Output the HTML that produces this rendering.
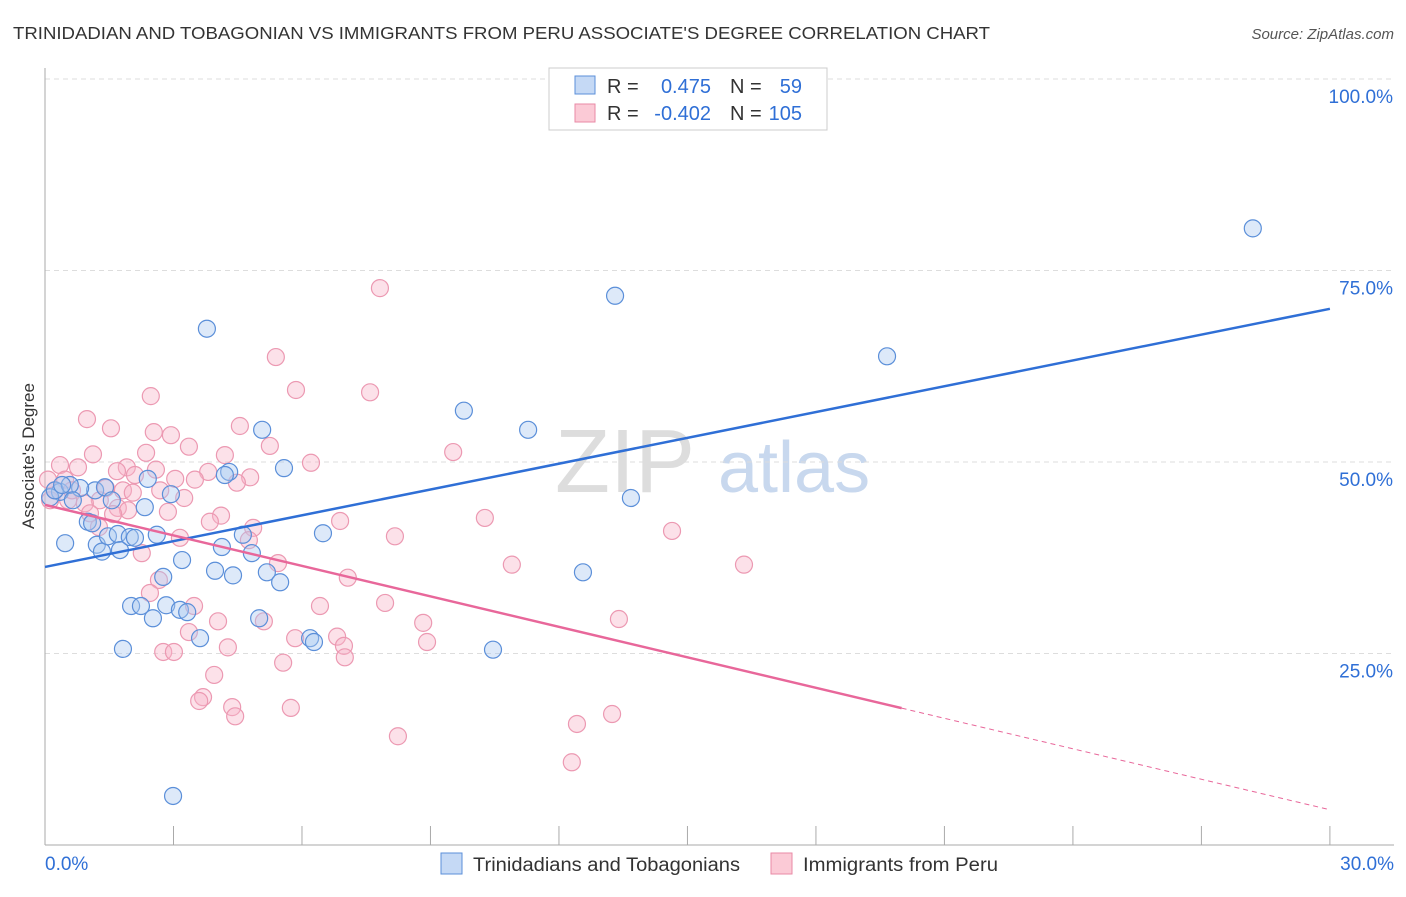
<!DOCTYPE html>
<html><head><meta charset="utf-8"><style>
body{margin:0;background:#fff;font-family:"Liberation Sans",sans-serif;}
svg text{font-family:"Liberation Sans",sans-serif;}
</style></head><body>
<svg id="c" width="1406" height="892" xmlns="http://www.w3.org/2000/svg">
<text x="13" y="39" font-size="17.5" fill="#333" textLength="977" lengthAdjust="spacingAndGlyphs">TRINIDADIAN AND TOBAGONIAN VS IMMIGRANTS FROM PERU ASSOCIATE'S DEGREE CORRELATION CHART</text>
<text x="1394" y="39" font-size="15" fill="#555" text-anchor="end" font-style="italic">Source: ZipAtlas.com</text>
<text x="34" y="456" font-size="17" fill="#333" text-anchor="middle" transform="rotate(-90 34 456)">Associate's Degree</text>
<text x="555" y="492" font-size="90" fill="#ddd" font-family="Liberation Serif">ZIP</text>
<text x="718" y="492" font-size="72" fill="#c8d8ee">atlas</text>
<g id="grid"></g><g id="pts"></g><g id="lines"></g>
<g>
<rect x="549" y="68" width="278" height="62" fill="#fff" stroke="#ccc"/>
<rect x="575" y="76" width="20" height="18" fill="#c5d9f5" stroke="#5b8fd9"/>
<rect x="575" y="104" width="20" height="18" fill="#fbcad6" stroke="#e88aa6"/>
<text x="607" y="93" font-size="20" fill="#333">R =</text>
<text x="711" y="93" font-size="20" fill="#2f6fd6" text-anchor="end">0.475</text>
<text x="730" y="93" font-size="20" fill="#333">N =</text>
<text x="802" y="93" font-size="20" fill="#2f6fd6" text-anchor="end">59</text>
<text x="607" y="120" font-size="20" fill="#333">R =</text>
<text x="711" y="120" font-size="20" fill="#2f6fd6" text-anchor="end">-0.402</text>
<text x="730" y="120" font-size="20" fill="#333">N =</text>
<text x="802" y="120" font-size="20" fill="#2f6fd6" text-anchor="end">105</text>
</g>
<g>
<rect x="441" y="853" width="21" height="21" fill="#c5d9f5" stroke="#5b8fd9"/>
<text x="473" y="871" font-size="19" fill="#333" textLength="267" lengthAdjust="spacingAndGlyphs">Trinidadians and Tobagonians</text>
<rect x="771" y="853" width="21" height="21" fill="#fbcad6" stroke="#e88aa6"/>
<text x="803" y="871" font-size="19" fill="#333" textLength="195" lengthAdjust="spacingAndGlyphs">Immigrants from Peru</text>
</g>
</svg>
<script>
const yTicks=[25,50,75,100];
const xTickLabels=["0.0%","30.0%"];
const bluePx=[[1253,228],[615,296],[207,329],[887,356],[464,411],[528,430],[262,430],[284,468],[229,472],[225,475],[148,479],[171,494],[145,507],[631,498],[95,490],[80,488],[60,492],[50,497],[55,490],[70,485],[105,487],[112,500],[88,522],[92,523],[65,543],[97,545],[102,552],[108,536],[118,534],[120,550],[130,537],[135,538],[157,535],[222,547],[252,553],[182,560],[323,533],[243,535],[215,571],[233,575],[267,572],[280,582],[163,577],[583,572],[131,606],[141,606],[166,605],[153,618],[180,610],[187,612],[259,618],[200,638],[310,638],[314,642],[123,649],[493,650],[173,796],[73,500],[62,485]];
const pinkPx=[[380,288],[276,357],[296,390],[370,392],[151,396],[87,419],[111,428],[154,432],[171,435],[240,426],[189,447],[270,446],[225,455],[93,454],[146,453],[60,465],[78,467],[127,467],[156,470],[175,479],[208,472],[311,463],[250,477],[237,483],[117,471],[135,475],[106,488],[123,490],[133,493],[160,490],[184,498],[195,480],[453,452],[65,480],[68,500],[100,500],[118,508],[128,510],[168,512],[221,516],[210,522],[99,527],[340,521],[485,518],[672,531],[253,528],[395,536],[249,540],[142,553],[180,538],[512,565],[744,565],[278,563],[348,578],[159,580],[150,593],[194,606],[320,606],[385,603],[218,621],[264,621],[423,623],[619,619],[189,632],[295,638],[337,637],[344,646],[427,642],[228,647],[163,652],[174,652],[345,657],[283,663],[214,675],[203,697],[199,701],[232,707],[235,716],[291,708],[577,724],[612,714],[398,736],[572,762],[50,500],[55,490],[48,480],[85,503],[72,490],[113,514],[90,513]];
const toX=p=>(p-45)/42.83, toY=p=>(845-p)/7.66;
const blueX=bluePx.map(p=>+toX(p[0]).toFixed(2)), blueY=bluePx.map(p=>+toY(p[1]).toFixed(1));
const pinkX=pinkPx.map(p=>+toX(p[0]).toFixed(2)), pinkY=pinkPx.map(p=>+toY(p[1]).toFixed(1));
const blueTrend=[36.3,70.0], pinkTrend=[44.4,4.6], pinkSolidEnd=20;
const X=v=>45+v*42.83, Y=v=>845-v*7.66;
const NS="http://www.w3.org/2000/svg";
function mk(t,a,parent){const e=document.createElementNS(NS,t);for(const k in a)e.setAttribute(k,a[k]);document.getElementById(parent).appendChild(e);return e;}
yTicks.forEach(t=>{
 const l=mk('line',{x1:45,x2:1394,y1:Y(t),y2:Y(t),stroke:'#ddd','stroke-dasharray':'5,4'},'grid');
 
 
 const tx=mk('text',{x:1393,y:Y(t)+24,'font-size':19,fill:'#2f6fd6','text-anchor':'end'},'grid');tx.textContent=t.toFixed(1)+'%';
 
 
});
let ax=mk('line',{x1:45,x2:45,y1:68,y2:845,stroke:'#aaa'},'grid');


let bx=mk('line',{x1:45,x2:1394,y1:845,y2:845,stroke:'#aaa'},'grid');


for(let i=0;i<=10;i++){const tk=mk('line',{x1:X(i*3),x2:X(i*3),y1:826,y2:845,stroke:'#aaa'},'grid');
 
 }
[[0,'start',45],[30,'end',1394]].forEach((d,i)=>{const t=mk('text',{x:d[2],y:870,'font-size':19,fill:'#2f6fd6','text-anchor':d[1]},'grid');t.textContent=xTickLabels[i];
 
 });
pinkX.forEach((x,i)=>{const c=mk('circle',{cx:X(x),cy:Y(pinkY[i]),r:8.5,fill:'rgba(248,180,200,0.4)',stroke:'#ec99b2','stroke-width':1.2},'pts');
 
 });
blueX.forEach((x,i)=>{const c=mk('circle',{cx:X(x),cy:Y(blueY[i]),r:8.5,fill:'rgba(170,200,240,0.4)',stroke:'#5b8fd9','stroke-width':1.2},'pts');
 
 });
let bl=mk('line',{x1:X(0),y1:Y(blueTrend[0]),x2:X(30),y2:Y(blueTrend[1]),stroke:'#2f6fd6','stroke-width':2.5},'lines');


const py=x=>pinkTrend[0]+(pinkTrend[1]-pinkTrend[0])*x/30;
let pl=mk('line',{x1:X(0),y1:Y(py(0)),x2:X(pinkSolidEnd),y2:Y(py(pinkSolidEnd)),stroke:'#e8679a','stroke-width':2.5},'lines');


let pd=mk('line',{x1:X(pinkSolidEnd),y1:Y(py(pinkSolidEnd)),x2:X(30),y2:Y(py(30)),stroke:'#e8679a','stroke-width':1,'stroke-dasharray':'5,4'},'lines');


</script>
</body></html>
